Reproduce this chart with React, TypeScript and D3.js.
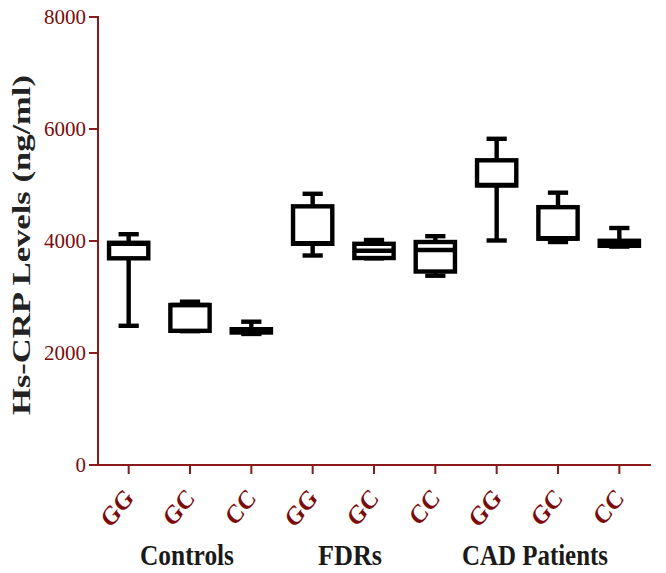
import React from "react";
import * as d3 from "d3";

const genotypes = ["GG", "GC", "CC", "GG", "GC", "CC", "GG", "GC", "CC"];
const groups = ["Controls", "FDRs", "CAD Patients"];
const mins = [2486, 2390, 2340, 3741, 3690, 3380, 4009, 3982, 3900];
const q1s = [3691, 2396, 2366, 3950, 3696, 3455, 4991, 4041, 3914];
const medians = [3950, 2857, 2400, 3960, 3825, 3839, 5000, 4050, 3960];
const q3s = [3968, 2857, 2425, 4619, 3950, 3982, 5441, 4604, 4004];
const maxs = [4121, 2916, 2559, 4843, 4018, 4086, 5825, 4863, 4232];
const yTicks = [0, 2000, 4000, 6000, 8000];

const W = 666;
const H = 573;
const AXIS = "#8B1A1A";
const LABEL = "#7B0C0C";

export default function App() {
  const ids = genotypes.map((_, i) => String(i));
  const x = d3.scaleBand<string>().domain(ids).range([98, 650]).padding(0);
  const y = d3.scaleLinear().domain([0, 8000]).range([465, 17]);
  const bw = x.bandwidth();
  const boxW = bw * 0.64;
  const capW = bw * 0.33;

  // group label layout (centers / widths)
  const groupCenters = [187, 350, 535];
  const groupWidths = [94, 64, 146];

  return (
    <svg
      width={W}
      height={H}
      style={{ position: "absolute", left: 0, top: 0, background: "#fff" }}
    >
      {/* y axis */}
      <line x1={98} x2={98} y1={y(8000) - 1} y2={y(0)} stroke={AXIS} strokeWidth={2} />
      {yTicks.map((t) => (
        <g key={t}>
          <line x1={89} x2={98} y1={y(t)} y2={y(t)} stroke={AXIS} strokeWidth={2} />
          <text
            x={86}
            y={y(t)}
            dy="0.34em"
            textAnchor="end"
            fontFamily="'Liberation Serif', 'Times New Roman', serif"
            fontSize={21}
            fill={LABEL}
          >
            {t}
          </text>
        </g>
      ))}
      {/* x axis */}
      <line x1={97} x2={651} y1={y(0)} y2={y(0)} stroke={AXIS} strokeWidth={2} />
      {ids.map((id, i) => {
        const cx = (x(id) as number) + bw / 2;
        return (
          <g key={"xt" + i}>
            <line x1={cx} x2={cx} y1={y(0)} y2={y(0) + 9} stroke={AXIS} strokeWidth={2} />
            <text
              transform={`translate(${cx + 6},${499}) scale(1,1.15) rotate(-47)`}
              textAnchor="end"
              fontFamily="'Liberation Serif', 'Times New Roman', serif"
              fontWeight="bold"
              fontSize={23}
              fill={LABEL}
            >
              {genotypes[i]}
            </text>
          </g>
        );
      })}
      {/* boxes */}
      {ids.map((id, i) => {
        const cx = (x(id) as number) + bw / 2;
        return (
          <g key={"b" + i} stroke="#000" strokeWidth={4.4} fill="#fff">
            <line x1={cx} x2={cx} y1={y(maxs[i])} y2={y(q3s[i])} />
            <line x1={cx} x2={cx} y1={y(q1s[i])} y2={y(mins[i])} />
            <line x1={cx - capW / 2} x2={cx + capW / 2} y1={y(maxs[i])} y2={y(maxs[i])} />
            <line x1={cx - capW / 2} x2={cx + capW / 2} y1={y(mins[i])} y2={y(mins[i])} />
            <rect
              x={cx - boxW / 2}
              y={y(q3s[i])}
              width={boxW}
              height={Math.max(0.1, y(q1s[i]) - y(q3s[i]))}
            />
            <line x1={cx - boxW / 2} x2={cx + boxW / 2} y1={y(medians[i])} y2={y(medians[i])} />
          </g>
        );
      })}
      {/* group labels */}
      {groups.map((g, i) => (
        <text
          key={g}
          x={groupCenters[i]}
          y={565}
          textAnchor="middle"
          fontFamily="'Liberation Serif', 'Times New Roman', serif"
          fontWeight="bold"
          fontSize={30}
          textLength={groupWidths[i]}
          lengthAdjust="spacingAndGlyphs"
          fill="#1a1a1a"
        >
          {g}
        </text>
      ))}
      {/* y title */}
      <text
        transform={`translate(30,245) rotate(-90)`}
        textAnchor="middle"
        fontFamily="'Liberation Serif', 'Times New Roman', serif"
        fontWeight="bold"
        fontSize={25}
        textLength={340}
        lengthAdjust="spacingAndGlyphs"
        fill="#222"
      >
        Hs-CRP Levels (ng/ml)
      </text>
    </svg>
  );
}
